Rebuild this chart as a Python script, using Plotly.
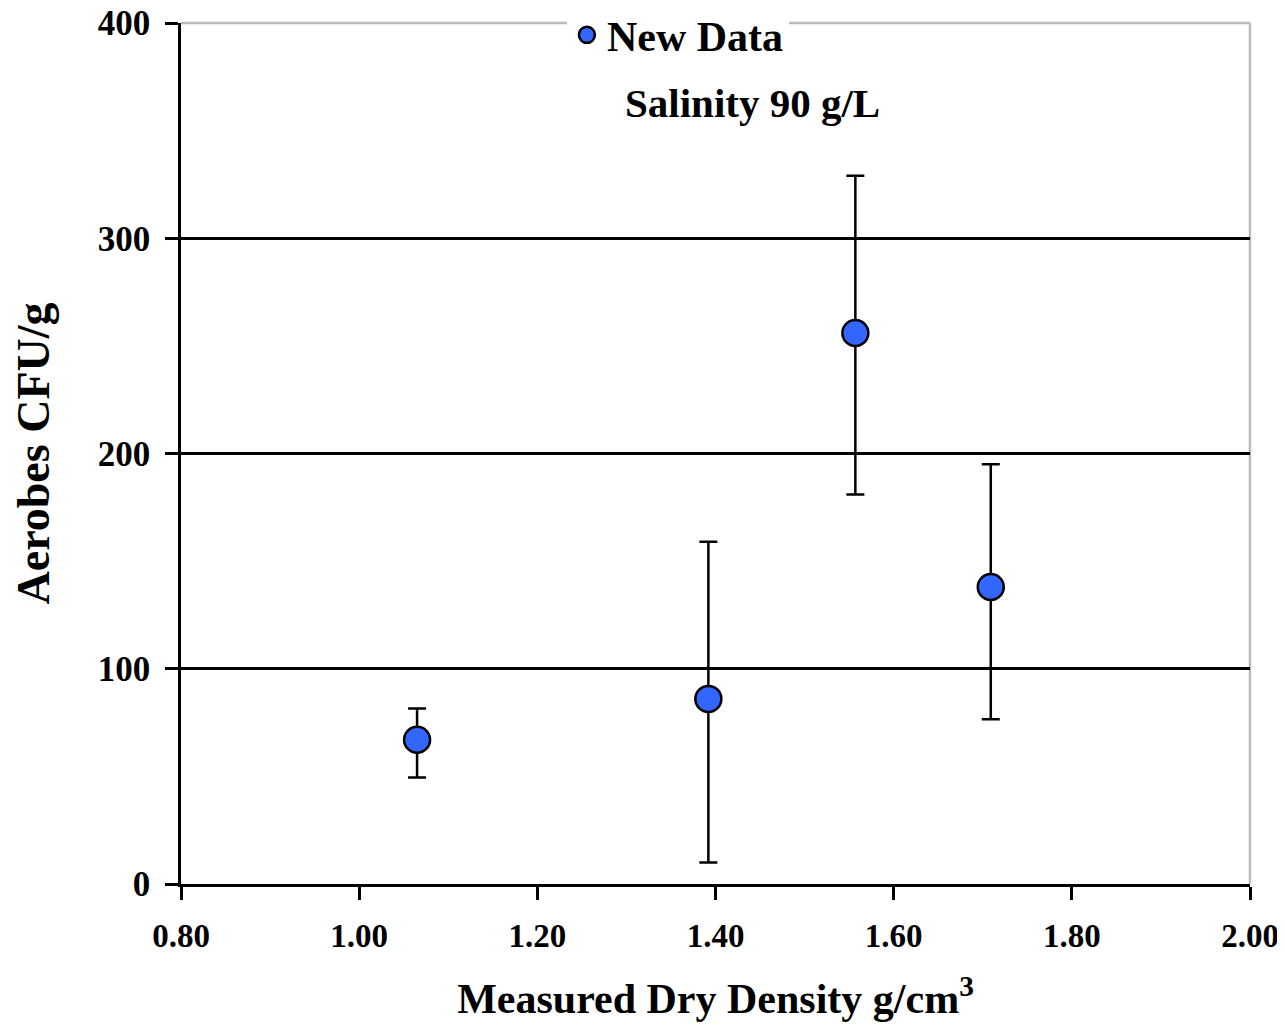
import plotly.graph_objects as go

density = [1.065, 1.392, 1.557, 1.709]
aerobes = [67, 86, 256, 138]
err_plus = [14.5, 73, 73, 57]
err_minus = [17.5, 76, 75, 61.5]
x_ticks = [0.8, 1.0, 1.2, 1.4, 1.6, 1.8, 2.0]
y_ticks = [0, 100, 200, 300, 400]

FONT = "Liberation Serif"

fig = go.Figure()
fig.add_trace(go.Scatter(
    x=density, y=aerobes, mode="markers", name="New Data",
    marker=dict(size=26, color="#3366FF", line=dict(color="black", width=2.5)),
    error_y=dict(type="data", array=err_plus, arrayminus=err_minus,
                 color="black", thickness=2.5, width=9),
))

fig.update_layout(
    width=1285, height=1028,
    margin=dict(l=173, r=43, t=15, b=152, autoexpand=False),
    plot_bgcolor="white", paper_bgcolor="white",
    font=dict(family=FONT, color="black", size=34, weight="bold"),
    showlegend=True,
    legend=dict(x=0.361, y=0.986, xanchor="left", yanchor="middle",
                bgcolor="white", borderwidth=0,
                font=dict(family=FONT, size=42, color="black", weight="bold"),
                itemwidth=30),
    xaxis=dict(range=[0.8, 2.0], tickvals=x_ticks, tickformat=".2f",
               showgrid=False, zeroline=False,
               showline=True, linecolor="black", linewidth=2.5,
               ticks="outside", ticklen=13, tickwidth=2.5, tickcolor="black",
               ticklabelstandoff=8, ticklabeloverflow="allow",
               tickfont=dict(family=FONT, size=33, color="black", weight="bold"),
               title=dict(text="Measured Dry Density g/cm<sup>3</sup>",
                          font=dict(family=FONT, size=42, color="black", weight="bold"),
                          standoff=31)),
    yaxis=dict(range=[0, 400], tickvals=y_ticks,
               showgrid=True, gridcolor="black", gridwidth=2.5, zeroline=False,
               showline=True, linecolor="black", linewidth=2.5,
               ticks="outside", ticklen=13, tickwidth=2.5, tickcolor="black",
               ticklabelstandoff=8, ticklabeloverflow="allow",
               tickfont=dict(family=FONT, size=35, color="black", weight="bold"),
               title=dict(text="Aerobes CFU/g",
                          font=dict(family=FONT, size=46, color="black", weight="bold"),
                          standoff=37)),
)

# gray top and right frame
fig.add_shape(type="line", xref="paper", yref="paper", x0=0, x1=1, y0=1, y1=1,
              line=dict(color="#BBBBBB", width=2.5), layer="below")
fig.add_shape(type="line", xref="paper", yref="paper", x0=1, x1=1, y0=0, y1=1,
              line=dict(color="#BBBBBB", width=2.5), layer="below")

fig.add_annotation(text="Salinity 90 g/L", xref="paper", yref="paper",
                   x=0.535, y=0.907, yanchor="middle", showarrow=False,
                   font=dict(family=FONT, size=41, color="black", weight="bold"))

fig.write_html("out.html")
